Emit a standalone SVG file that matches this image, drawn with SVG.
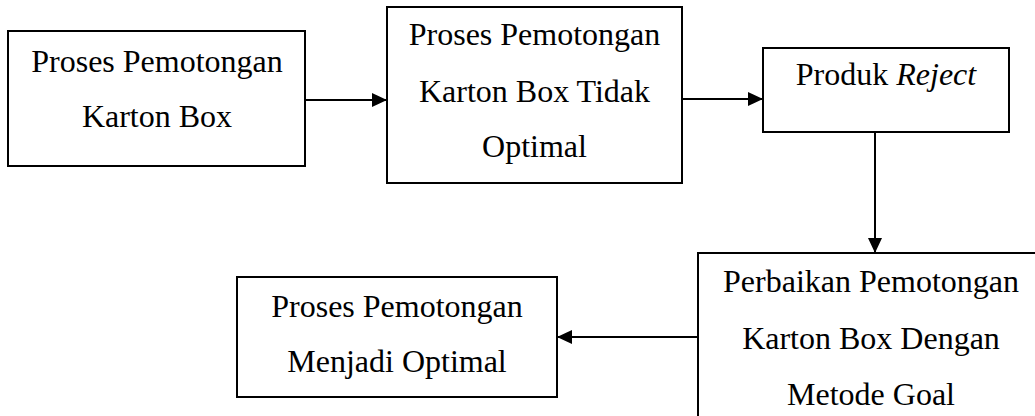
<svg xmlns="http://www.w3.org/2000/svg" width="1035" height="416" viewBox="0 0 1035 416">
<style>
.box{fill:#fff;stroke:#000;stroke-width:2}
.t{font-family:"Liberation Serif","Times New Roman",serif;font-size:32px;fill:#000;text-anchor:middle}
.c{stroke:#000;stroke-width:2;fill:none;marker-end:url(#ah)}
</style>
<defs>
<marker id="ah" viewBox="0 0 15 14" refX="15" refY="7" markerWidth="15" markerHeight="14" markerUnits="userSpaceOnUse" orient="auto">
<path d="M0,0 L15,7 L0,14 Z" fill="#000"/>
</marker>
</defs>
<rect width="1035" height="416" fill="#fff"/>
<g id="n1">
<rect class="box" x="8" y="31" width="297" height="135"/>
<text class="t" x="157" y="72">Proses Pemotongan</text>
<text class="t" x="157" y="127">Karton Box</text>
</g>
<g id="n2">
<rect class="box" x="387" y="7" width="295" height="176"/>
<text class="t" x="534.5" y="45">Proses Pemotongan</text>
<text class="t" x="534.5" y="102">Karton Box Tidak</text>
<text class="t" x="534.5" y="157">Optimal</text>
</g>
<g id="n3">
<rect class="box" x="763" y="48" width="246" height="84"/>
<text class="t" x="886" y="85">Produk <tspan font-style="italic">Reject</tspan></text>
</g>
<g id="n4">
<rect class="box" x="698" y="253" width="345" height="180"/>
<text class="t" x="871" y="292">Perbaikan Pemotongan</text>
<text class="t" x="871" y="349">Karton Box Dengan</text>
<text class="t" x="871" y="405">Metode Goal</text>
</g>
<g id="n5">
<rect class="box" x="237" y="277" width="320" height="120"/>
<text class="t" x="397" y="317">Proses Pemotongan</text>
<text class="t" x="397" y="372">Menjadi Optimal</text>
</g>
<g id="connectors">
<path class="c" d="M305,100 L387,100"/>
<path class="c" d="M682,99 L763,99"/>
<path class="c" d="M875,132 L875,253"/>
<path class="c" d="M698,337 L557,337"/>
</g>
</svg>
